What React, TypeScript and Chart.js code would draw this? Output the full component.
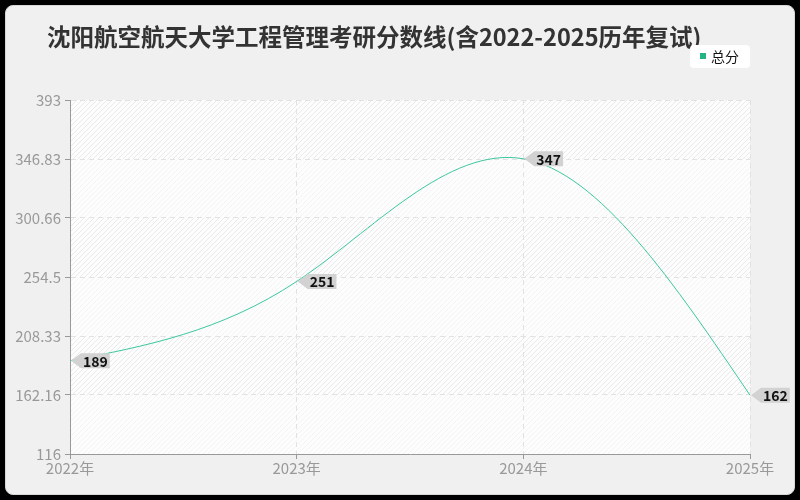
import React, { useEffect, useRef } from "react";
import { Chart, registerables } from "chart.js";

Chart.register(...registerables);

const TITLE = "沈阳航空航天大学工程管理考研分数线(含2022-2025历年复试)";
const CATEGORIES = ["2022年", "2023年", "2024年", "2025年"];
const SERIES_NAME = "总分";
const TOTAL_SCORES = [189, 251, 347, 162];
const Y_TICK_VALUES = [116, 162.1667, 208.3333, 254.5, 300.6667, 346.8333, 393];
const Y_TICK_LABELS = ["116", "162.16", "208.33", "254.5", "300.66", "346.83", "393"];

const FONT = "'Noto Sans CJK SC', 'Noto Sans', sans-serif";
const LINE_COLOR = "#3cc8a0";

function makePattern(alpha: number): CanvasPattern | string {
  const c = document.createElement("canvas");
  c.width = 5;
  c.height = 5;
  const g = c.getContext("2d");
  if (!g) return "#fff";
  g.fillStyle = "#fdfdfd";
  g.fillRect(0, 0, 5, 5);
  g.strokeStyle = `rgba(0,0,0,${alpha})`;
  g.lineWidth = 1;
  g.beginPath();
  g.moveTo(-1, 6);
  g.lineTo(6, -1);
  g.moveTo(-1, 1);
  g.lineTo(1, -1);
  g.moveTo(4, 6);
  g.lineTo(6, 4);
  g.stroke();
  const p = g.createPattern(c, "repeat");
  return p || "#fff";
}

// natural cubic spline through pixel points (uniform parameter spacing)
function drawNaturalSpline(ctx: CanvasRenderingContext2D, pts: { x: number; y: number }[]) {
  const n = pts.length - 1;
  if (n < 1) return;
  const y = pts.map((p) => p.y);
  const M = new Array(n + 1).fill(0);
  if (n >= 2) {
    const m = n - 1;
    const a: number[] = [], b: number[] = [], c: number[] = [], d: number[] = [];
    for (let i = 1; i <= m; i++) {
      a.push(1);
      b.push(4);
      c.push(1);
      d.push(6 * (y[i - 1] - 2 * y[i] + y[i + 1]));
    }
    for (let i = 1; i < m; i++) {
      const w = a[i] / b[i - 1];
      b[i] -= w * c[i - 1];
      d[i] -= w * d[i - 1];
    }
    const sol = new Array(m).fill(0);
    sol[m - 1] = d[m - 1] / b[m - 1];
    for (let i = m - 2; i >= 0; i--) sol[i] = (d[i] - c[i] * sol[i + 1]) / b[i];
    for (let i = 1; i <= m; i++) M[i] = sol[i - 1];
  }
  ctx.beginPath();
  ctx.moveTo(pts[0].x, pts[0].y);
  for (let i = 0; i < n; i++) {
    const p0 = pts[i], p1 = pts[i + 1];
    const dx = p1.x - p0.x;
    const d0 = y[i + 1] - y[i] - (2 * M[i] + M[i + 1]) / 6;
    const d1 = y[i + 1] - y[i] + (M[i] + 2 * M[i + 1]) / 6;
    ctx.bezierCurveTo(p0.x + dx / 3, p0.y + d0 / 3, p1.x - dx / 3, p1.y - d1 / 3, p1.x, p1.y);
  }
  ctx.stroke();
}

const bgPlugin = {
  id: "bgBands",
  beforeDraw(chart: any) {
    const { ctx, chartArea } = chart;
    const ys = chart.scales.y;
    const faint = makePattern(0.035);
    const strong = makePattern(0.075);
    ctx.save();
    ctx.fillStyle = faint;
    ctx.fillRect(chartArea.left, chartArea.top, chartArea.right - chartArea.left, chartArea.bottom - chartArea.top);
    for (let i = Y_TICK_VALUES.length - 1; i > 0; i -= 2) {
      const yTop = ys.getPixelForValue(Y_TICK_VALUES[i]);
      const yBot = ys.getPixelForValue(Y_TICK_VALUES[i - 1]);
      ctx.fillStyle = strong;
      ctx.fillRect(chartArea.left, yTop, chartArea.right - chartArea.left, yBot - yTop);
    }
    ctx.restore();
  },
};

const decorPlugin = {
  id: "decor",
  afterDraw(chart: any) {
    const { ctx } = chart;
    ctx.save();
    // title
    ctx.font = `bold 23.5px ${FONT}`;
    ctx.fillStyle = "#333";
    ctx.textBaseline = "middle";
    ctx.textAlign = "left";
    ctx.fillText(TITLE, 41, 31);
    // legend
    const lx = 684, ly = 39, lw = 60, lh = 23;
    ctx.fillStyle = "#ffffff";
    ctx.beginPath();
    (ctx as any).roundRect(lx, ly, lw, lh, 4);
    ctx.fill();
    ctx.fillStyle = "#22b583";
    ctx.fillRect(lx + 10, ly + 8, 6, 6);
    ctx.font = `14px ${FONT}`;
    ctx.fillStyle = "#111";
    ctx.fillText(SERIES_NAME, lx + 21, ly + 11.5);
    ctx.restore();
  },
  afterDatasetsDraw(chart: any) {
    const { ctx } = chart;
    const meta = chart.getDatasetMeta(0);
    const pts = meta.data.map((p: any) => ({ x: p.x, y: p.y }));
    ctx.save();
    ctx.strokeStyle = LINE_COLOR;
    ctx.lineWidth = 1;
    drawNaturalSpline(ctx, pts);
    ctx.font = `bold 14px ${FONT}`;
    ctx.textBaseline = "middle";
    ctx.textAlign = "left";
    pts.forEach((pt: any, i: number) => {
      const x = pt.x;
      const y = pt.y;
      const text = String(TOTAL_SCORES[i]);
      const tw = ctx.measureText(text).width;
      const tip = x + 1;
      const bx = x + 11;
      const bw = tw + 4;
      const h = 15;
      ctx.fillStyle = "#d2d2d2";
      ctx.beginPath();
      ctx.moveTo(tip, y);
      ctx.lineTo(bx, y - h / 2);
      ctx.lineTo(bx + bw, y - h / 2);
      ctx.lineTo(bx + bw, y + h / 2);
      ctx.lineTo(bx, y + h / 2);
      ctx.closePath();
      ctx.fill();
      ctx.fillStyle = "#111";
      ctx.fillText(text, bx + 2, y + 0.5);
    });
    ctx.restore();
  },
};

export default function App() {
  const ref = useRef<HTMLCanvasElement | null>(null);

  useEffect(() => {
    if (!ref.current) return;
    const chart = new Chart(ref.current, {
      type: "line",
      data: {
        labels: CATEGORIES,
        datasets: [
          {
            label: SERIES_NAME,
            data: TOTAL_SCORES,
            borderColor: LINE_COLOR,
            backgroundColor: LINE_COLOR,
            borderWidth: 1,
            pointRadius: 0,
            pointHoverRadius: 0,
            showLine: false,
            fill: false,
          },
        ],
      },
      options: {
        responsive: false,
        animation: false,
        layout: { padding: { left: 0, right: 44, top: 94, bottom: 0 } },
        plugins: {
          legend: { display: false },
          title: { display: false },
          tooltip: { enabled: false },
        },
        scales: {
          x: {
            type: "category",
            offset: false,
            grid: {
              color: "#e2e2e2",
              tickColor: "#999",
              tickLength: 5,
              drawTicks: true,
            },
            border: { color: "#999", width: 1, dash: [5, 4] },
            ticks: {
              color: "#999",
              font: { size: 15, family: FONT },
              padding: 0,
              maxRotation: 0,
            },
            afterFit(scale: any) {
              scale.height = 40;
            },
          },
          y: {
            type: "linear",
            min: 116,
            max: 393,
            grid: {
              color: "#e2e2e2",
              tickColor: "#999",
              tickLength: 5,
              drawTicks: true,
            },
            border: { color: "#999", width: 1, dash: [5, 4] },
            ticks: {
              color: "#999",
              font: { size: 15, family: FONT },
              padding: 4,
              callback: (_v: any, i: number) => Y_TICK_LABELS[i],
            },
            afterBuildTicks(scale: any) {
              scale.ticks = Y_TICK_VALUES.map((v) => ({ value: v }));
            },
            afterFit(scale: any) {
              scale.width = 64;
            },
          },
        },
      },
      plugins: [bgPlugin, decorPlugin],
    });
    return () => chart.destroy();
  }, []);

  return (
    <div style={{ position: "absolute", left: 0, top: 0, width: 800, height: 500, background: "#000" }}>
      <div
        style={{
          position: "absolute",
          left: 5,
          top: 5,
          width: 790,
          height: 490,
          boxSizing: "border-box",
          border: "1px solid #d8d8d8",
          borderRadius: 8,
          background: "#f0f0f0",
          overflow: "hidden",
        }}
      >
        <canvas
          ref={ref}
          width={788}
          height={488}
          style={{ position: "absolute", left: 0, top: 0, width: 788, height: 488 }}
        />
      </div>
    </div>
  );
}
